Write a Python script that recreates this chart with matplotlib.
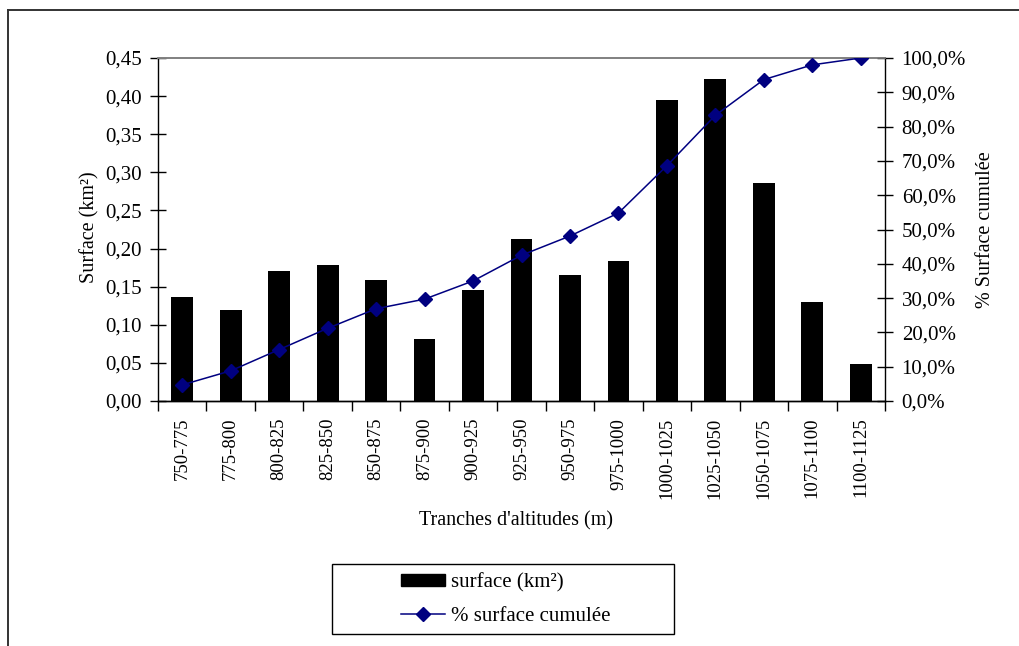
import numpy as np
import matplotlib
matplotlib.use('Agg')
import matplotlib.pyplot as plt
from matplotlib.patches import Rectangle, Patch
from matplotlib.lines import Line2D

# ============================================================
# Data
# ============================================================
tranches = ['750-775', '775-800', '800-825', '825-850', '850-875', '875-900',
            '900-925', '925-950', '950-975', '975-1000', '1000-1025',
            '1025-1050', '1050-1075', '1075-1100', '1100-1125']
surface = [0.137, 0.120, 0.171, 0.179, 0.159, 0.081, 0.145, 0.213,
           0.165, 0.184, 0.395, 0.423, 0.286, 0.130, 0.049]
cumul_pct = [4.7, 8.8, 15.0, 21.2, 26.9, 29.7, 35.0, 42.5,
             48.1, 54.8, 68.6, 83.3, 93.7, 98.0, 100.0]

W, H = 1019, 646
plt.rcParams['font.family'] = ['Liberation Serif', 'DejaVu Serif']
fs = 15

fig = plt.figure(figsize=(W / 100, H / 100), dpi=100)
fig.patch.set_facecolor('white')

# outer frame (only top and left edges are inside the picture)
fig.add_artist(Line2D([8 / W, 1.0], [1 - 9.5 / H, 1 - 9.5 / H], color='#333333', lw=1.4,
                      transform=fig.transFigure))
fig.add_artist(Line2D([8 / W, 8 / W], [0.0, 1 - 9.5 / H], color='#333333', lw=1.4,
                      transform=fig.transFigure))

# plot area: x 158-885 px, y 58-401 px
ax = fig.add_axes([158 / W, 1 - 401 / H, (885 - 158) / W, (401 - 58) / H])
ax2 = ax.twinx()

x = np.arange(len(tranches))
ax.bar(x, surface, width=0.45, color='black', zorder=2)
ax2.plot(x, cumul_pct, color='#000080', lw=1.1, marker='D', ms=7,
         markerfacecolor='#000080', markeredgecolor='#000080', zorder=3)

ax.set_xlim(-0.5, len(tranches) - 0.5)
ax.set_ylim(0, 0.45)
ax2.set_ylim(0, 100)

# left axis
yt = np.arange(0, 0.451, 0.05)
ax.set_yticks(yt)
ax.set_yticklabels([f"{v:.2f}".replace('.', ',') for v in yt], fontsize=fs)
ax.tick_params(axis='y', direction='inout', length=11, width=1, pad=6)

# right axis
yt2 = np.arange(0, 100.1, 10)
ax2.set_yticks(yt2)
ax2.set_yticklabels([f"{v:.1f}%".replace('.', ',') for v in yt2], fontsize=fs)
ax2.tick_params(axis='y', direction='inout', length=12, width=1, pad=6)

# category axis: labels at centres, tick marks at boundaries
ax.set_xticks(x)
ax.set_xticklabels(tranches, rotation=90, fontsize=13.5)
ax.tick_params(axis='x', which='major', length=0, pad=12)
ax.set_xticks(np.arange(-0.5, len(tranches), 1.0), minor=True)
ax.tick_params(axis='x', which='minor', direction='out', length=7, width=1)

for a in (ax, ax2):
    a.spines['top'].set_color('#808080')
    a.spines['top'].set_linewidth(1.2)
    a.spines['bottom'].set_linewidth(1)
ax.spines['left'].set_linewidth(1)
ax.spines['right'].set_visible(False)
ax2.spines['left'].set_visible(False)
ax2.spines['right'].set_linewidth(1)

# axis titles
fig.text(90 / W, 1 - 227 / H, 'Surface (km²)', rotation=90, ha='center', va='center', fontsize=14.5)
fig.text(985 / W, 1 - 230 / H, '% Surface cumulée', rotation=90, ha='center', va='center', fontsize=14.5)
fig.text(516 / W, 1 - 521 / H, "Tranches d'altitudes (m)", ha='center', va='center', fontsize=14.5)

# legend
handles = [Patch(facecolor='black', edgecolor='black'),
           Line2D([], [], color='#000080', lw=1.1, marker='D', ms=7)]
fig.legend(handles, ['surface (km²)', '% surface cumulée'], loc='center',
           bbox_to_anchor=(506 / W, 1 - 599.5 / H), frameon=False, fontsize=fs,
           handlelength=2.1, handleheight=0.55, handletextpad=0.29, labelspacing=0.69)
fig.add_artist(Rectangle((332 / W, 1 - 634 / H), (674 - 332) / W, (634 - 564) / H,
                         fill=False, edgecolor='black', lw=1, transform=fig.transFigure))

fig.savefig('out.png', dpi=100)
